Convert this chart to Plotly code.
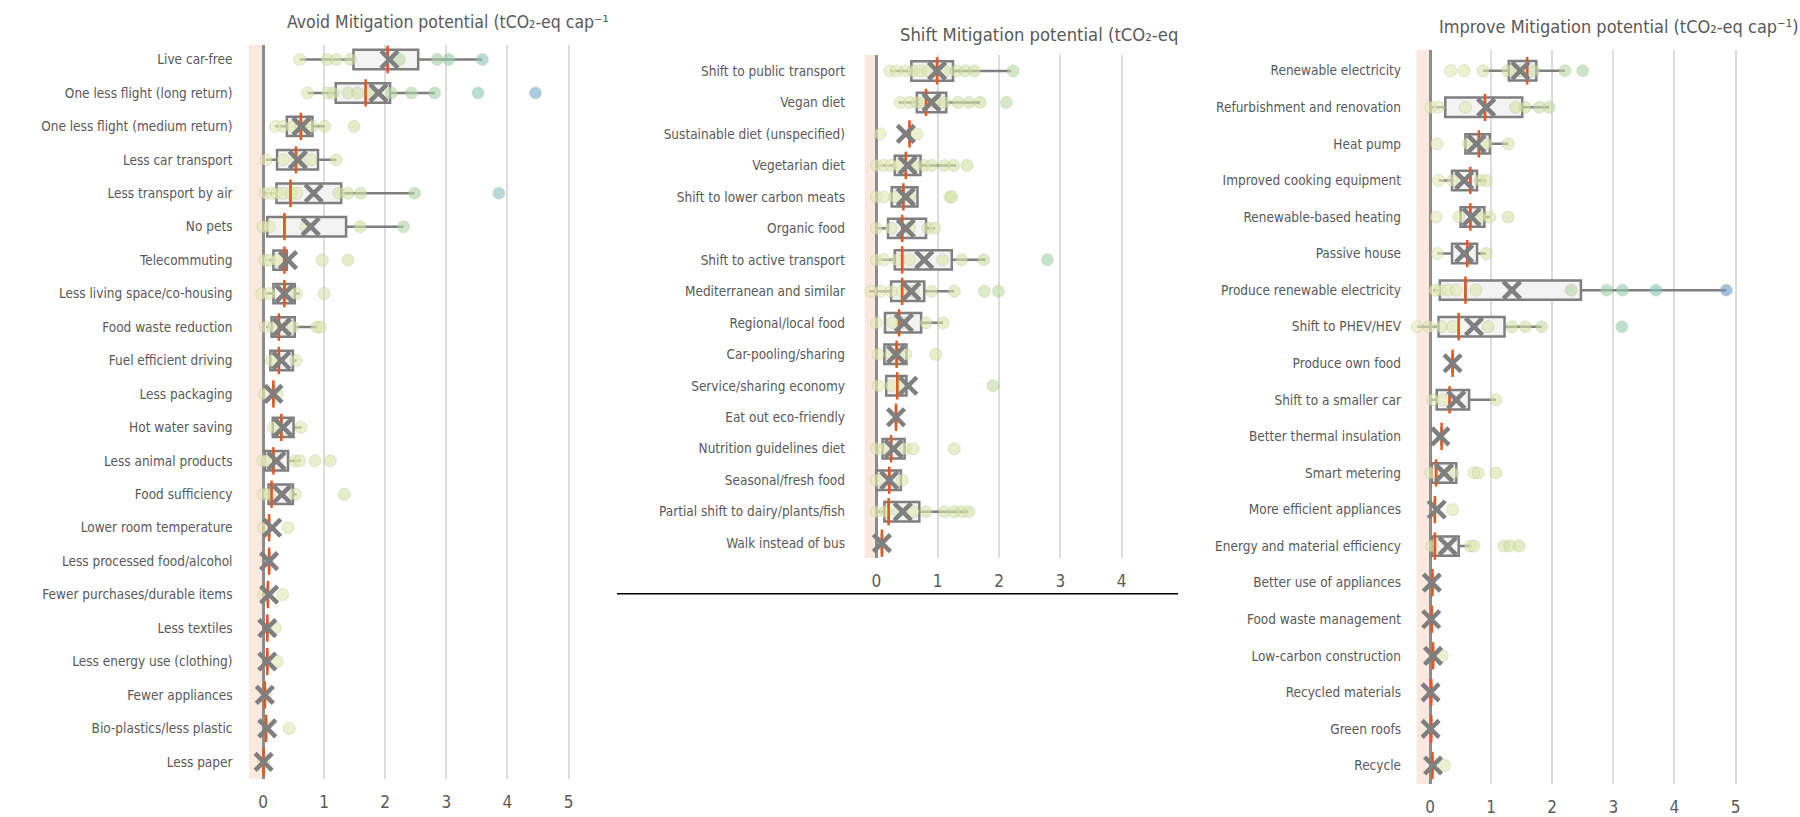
import plotly.graph_objects as go

# ---------------- Avoid ----------------
avoid_labels = ["Live car-free", "One less flight (long return)", "One less flight (medium return)",
                "Less car transport", "Less transport by air", "No pets", "Telecommuting",
                "Less living space/co-housing", "Food waste reduction", "Fuel efficient driving",
                "Less packaging", "Hot water saving", "Less animal products", "Food sufficiency",
                "Lower room temperature", "Less processed food/alcohol", "Fewer purchases/durable items",
                "Less textiles", "Less energy use (clothing)", "Fewer appliances",
                "Bio-plastics/less plastic", "Less paper"]
avoid_lo = [0.60, 0.73, 0.20, 0.05, 0.02, 0.00, 0.03, 0.02, 0.05, 0.12, 0.17, 0.16, 0.00, 0.05, 0.10, 0.10, 0.08, 0.07, 0.07, 0.03, 0.05, 0.01]
avoid_q1 = [1.48, 1.19, 0.39, 0.23, 0.22, 0.07, 0.17, 0.17, 0.14, 0.12, 0.17, 0.16, 0.03, 0.09, 0.10, 0.10, 0.08, 0.07, 0.07, 0.03, 0.05, 0.01]
avoid_med = [2.04, 1.68, 0.62, 0.54, 0.45, 0.35, 0.35, 0.35, 0.26, 0.26, 0.17, 0.30, 0.17, 0.14, 0.10, 0.10, 0.08, 0.07, 0.07, 0.03, 0.05, 0.01]
avoid_q3 = [2.54, 2.08, 0.81, 0.90, 1.28, 1.36, 0.39, 0.52, 0.52, 0.49, 0.17, 0.50, 0.41, 0.49, 0.10, 0.10, 0.08, 0.07, 0.07, 0.03, 0.05, 0.01]
avoid_hi = [3.59, 2.81, 1.01, 1.20, 2.48, 2.30, 0.39, 0.60, 0.90, 0.55, 0.17, 0.63, 0.62, 0.55, 0.10, 0.10, 0.08, 0.07, 0.07, 0.03, 0.05, 0.01]
avoid_mean = [2.07, 1.89, 0.63, 0.57, 0.83, 0.78, 0.41, 0.35, 0.31, 0.30, 0.17, 0.33, 0.22, 0.31, 0.15, 0.10, 0.10, 0.07, 0.07, 0.03, 0.07, 0.01]
avoid_points = [
    [0.60, 1.05, 1.20, 1.43, 2.23, 2.85, 3.04, 3.59],
    [0.73, 1.06, 1.15, 1.39, 1.55, 1.75, 2.10, 2.43, 2.81, 3.52, 4.46],
    [0.20, 0.33, 0.49, 0.62, 0.81, 1.01, 1.49],
    [0.05, 0.33, 0.56, 0.78, 1.20],
    [0.04, 0.14, 0.23, 0.33, 0.46, 0.55, 1.24, 1.39, 1.60, 2.48, 3.86],
    [0.00, 0.10, 0.70, 1.59, 2.30],
    [0.03, 0.10, 0.23, 0.97, 1.39],
    [-0.02, 0.10, 0.55, 1.00],
    [0.04, 0.17, 0.49, 0.88, 0.94],
    [0.14, 0.54],
    [0.03, 0.23],
    [0.17, 0.62],
    [0.00, 0.06, 0.52, 0.60, 0.85, 1.10],
    [0.01, 0.10, 0.53, 1.33],
    [0.01, 0.41],
    [],
    [0.01, 0.32],
    [0.20],
    [0.23],
    [0.05],
    [0.43],
    [0.01],
]

# ---------------- Shift ----------------
shift_labels = ["Shift to public transport", "Vegan diet", "Sustainable diet (unspecified)",
                "Vegetarian diet", "Shift to lower carbon meats", "Organic food",
                "Shift to active transport", "Mediterranean and similar", "Regional/local food",
                "Car-pooling/sharing", "Service/sharing economy", "Eat out eco-friendly",
                "Nutrition guidelines diet", "Seasonal/fresh food", "Partial shift to dairy/plants/fish",
                "Walk instead of bus"]
shift_lo = [0.22, 0.36, 0.54, 0.00, 0.25, 0.00, 0.00, -0.12, 0.14, 0.13, 0.16, 0.32, 0.10, 0.00, 0.00, 0.09]
shift_q1 = [0.57, 0.66, 0.54, 0.30, 0.25, 0.19, 0.30, 0.24, 0.14, 0.13, 0.16, 0.32, 0.10, 0.00, 0.13, 0.09]
shift_med = [0.99, 0.81, 0.54, 0.48, 0.44, 0.42, 0.42, 0.42, 0.37, 0.33, 0.34, 0.32, 0.24, 0.21, 0.20, 0.09]
shift_q3 = [1.25, 1.14, 0.54, 0.72, 0.67, 0.81, 1.23, 0.78, 0.73, 0.49, 0.49, 0.32, 0.46, 0.40, 0.70, 0.09]
shift_hi = [2.20, 1.69, 0.54, 1.30, 0.67, 0.96, 1.78, 1.27, 1.09, 0.49, 0.49, 0.32, 0.46, 0.40, 1.50, 0.09]
shift_mean = [0.99, 0.90, 0.48, 0.51, 0.48, 0.48, 0.78, 0.57, 0.45, 0.32, 0.52, 0.32, 0.28, 0.21, 0.43, 0.09]
shift_points = [
    [0.22, 0.33, 0.48, 0.60, 0.72, 0.84, 1.11, 1.30, 1.45, 1.60, 2.23],
    [0.39, 0.54, 0.66, 0.78, 0.96, 1.11, 1.33, 1.51, 1.69, 2.12],
    [0.06, 0.66],
    [0.00, 0.12, 0.24, 0.36, 0.60, 0.78, 0.90, 1.11, 1.26, 1.48],
    [0.00, 0.12, 0.30, 0.54, 1.20, 1.23],
    [0.00, 0.24, 0.54, 0.84, 0.95],
    [0.00, 0.12, 0.33, 0.54, 1.08, 1.39, 1.75, 2.79],
    [-0.09, 0.06, 0.24, 0.42, 0.60, 0.90, 1.27, 1.76, 1.99],
    [0.00, 0.27, 0.42, 0.81, 1.09],
    [0.03, 0.24, 0.48, 0.97],
    [0.03, 0.24, 0.42, 1.90],
    [],
    [0.00, 0.12, 0.48, 0.60, 1.27],
    [0.00, 0.42],
    [0.00, 0.15, 0.36, 0.60, 0.81, 1.11, 1.27, 1.39, 1.51],
    [],
]

# ---------------- Improve ----------------
improve_labels = ["Renewable electricity", "Refurbishment and renovation", "Heat pump",
                  "Improved cooking equipment", "Renewable-based heating", "Passive house",
                  "Produce renewable electricity", "Shift to PHEV/HEV", "Produce own food",
                  "Shift to a smaller car", "Better thermal insulation", "Smart metering",
                  "More efficient appliances", "Energy and material efficiency",
                  "Better use of appliances", "Food waste management", "Low-carbon construction",
                  "Recycled materials", "Green roofs", "Recycle"]
improve_lo = [0.87, 0.01, 0.58, 0.14, 0.50, 0.12, 0.05, -0.21, 0.37, 0.02, 0.19, 0.03, 0.08, 0.03, 0.04, 0.03, 0.05, 0.02, 0.02, 0.04]
improve_q1 = [1.29, 0.25, 0.58, 0.36, 0.50, 0.36, 0.16, 0.14, 0.37, 0.11, 0.19, 0.03, 0.08, 0.03, 0.04, 0.03, 0.05, 0.02, 0.02, 0.04]
improve_med = [1.59, 0.90, 0.80, 0.66, 0.66, 0.61, 0.58, 0.47, 0.37, 0.32, 0.19, 0.10, 0.08, 0.08, 0.04, 0.03, 0.05, 0.02, 0.02, 0.04]
improve_q3 = [1.74, 1.51, 0.98, 0.77, 0.89, 0.77, 2.47, 1.22, 0.37, 0.64, 0.19, 0.43, 0.08, 0.47, 0.04, 0.03, 0.05, 0.02, 0.02, 0.04]
improve_hi = [2.21, 1.95, 1.28, 0.92, 0.98, 0.92, 4.85, 1.83, 0.37, 1.08, 0.19, 0.43, 0.08, 0.69, 0.04, 0.03, 0.05, 0.02, 0.02, 0.04]
improve_mean = [1.48, 0.92, 0.76, 0.56, 0.68, 0.56, 1.34, 0.72, 0.37, 0.43, 0.17, 0.23, 0.11, 0.29, 0.03, 0.02, 0.05, 0.01, 0.01, 0.05]
improve_points = [
    [0.34, 0.56, 0.87, 1.27, 1.47, 1.70, 2.21, 2.50],
    [0.01, 0.14, 0.58, 1.40, 1.56, 1.79, 1.95],
    [0.11, 0.63, 0.92, 1.28],
    [0.14, 0.37, 0.82, 0.92],
    [0.10, 0.47, 0.82, 0.98, 1.28],
    [0.12, 0.92],
    [0.08, 0.17, 0.30, 0.43, 0.75, 2.31, 2.89, 3.15, 3.70, 4.85],
    [-0.21, -0.02, 0.18, 0.37, 0.95, 1.34, 1.56, 1.83, 3.14],
    [],
    [0.05, 0.21, 1.08],
    [],
    [0.01, 0.37, 0.72, 0.79, 1.08],
    [0.37],
    [0.03, 0.66, 0.72, 1.21, 1.31, 1.46],
    [],
    [],
    [0.20],
    [],
    [],
    [0.24],
]

tick_vals = [0, 1, 2, 3, 4, 5]

FONT = "Liberation Sans Narrow, Arial Narrow, DejaVu Sans Condensed, sans-serif"
TXT = "#595959"
GRAY = "#7f7f7f"
MED = "#e8561f"
PT_SCALE = [[0.0, "#e8ebb8"], [0.3, "#d3e2a6"], [0.5, "#aed5a6"], [0.64, "#94cbb2"],
            [0.76, "#8ac6c0"], [0.9, "#74a8d3"], [1.0, "#6a95c8"]]

W, H = 1800, 817
fig = go.Figure()

panels = [
    dict(labels=avoid_labels, lo=avoid_lo, q1=avoid_q1, med=avoid_med, q3=avoid_q3, hi=avoid_hi,
         mean=avoid_mean, pts=avoid_points, xa="x", ya="y",
         xdom=(235.5, 605), zero=263, unit=61.1, ytop=45, ybot=781.7, row0=59.7, step=33.57,
         band=-0.23, title="Avoid Mitigation potential (tCO₂-eq cap⁻¹", tx=285, ty=21.7, ts=17.5),
    dict(labels=shift_labels, lo=shift_lo, q1=shift_q1, med=shift_med, q3=shift_q3, hi=shift_hi,
         mean=shift_mean, pts=shift_points, xa="x2", ya="y2",
         xdom=(848, 1177), zero=876.4, unit=61.3, ytop=55, ybot=560, row0=71.2, step=31.6,
         band=-0.19, title="Shift Mitigation potential (tCO₂-eq", tx=898, ty=35, ts=18.3),
    dict(labels=improve_labels, lo=improve_lo, q1=improve_q1, med=improve_med, q3=improve_q3,
         hi=improve_hi, mean=improve_mean, pts=improve_points, xa="x3", ya="y3",
         xdom=(1404, 1800), zero=1430, unit=61.1, ytop=50, ybot=787, row0=71, step=36.7,
         band=-0.22, title="Improve Mitigation potential (tCO₂-eq cap⁻¹)", tx=1437, ty=26.7, ts=18),
]

layout_axes = {}
shapes = []
annotations = []
for i, p in enumerate(panels):
    n = len(p["labels"])
    idx = list(range(n))
    box_px = 19.5
    boxw = box_px / p["step"]
    fig.add_trace(go.Box(
        orientation="h", y=idx, q1=p["q1"], median=p["med"], q3=p["q3"],
        lowerfence=p["lo"], upperfence=p["hi"], width=boxw, whiskerwidth=0,
        fillcolor="#f3f3f3", line=dict(color=GRAY, width=2.5), boxpoints=False,
        xaxis=p["xa"], yaxis=p["ya"], showlegend=False, hoverinfo="skip"))
    px, py = [], []
    for r, vals in enumerate(p["pts"]):
        for v in vals:
            px.append(v)
            py.append(r)
    fig.add_trace(go.Scatter(
        x=px, y=py, mode="markers", xaxis=p["xa"], yaxis=p["ya"], showlegend=False,
        hoverinfo="skip",
        marker=dict(size=12, color=px, colorscale=PT_SCALE, cmin=0, cmax=5, opacity=0.62,
                    line=dict(color="rgba(170,185,130,0.55)", width=1))))
    fig.add_trace(go.Scatter(
        x=p["med"], y=idx, mode="markers", xaxis=p["xa"], yaxis=p["ya"], showlegend=False,
        hoverinfo="skip",
        marker=dict(symbol="line-ns", size=box_px, line=dict(color=MED, width=2.5))))
    fig.add_trace(go.Scatter(
        x=p["mean"], y=idx, mode="markers", xaxis=p["xa"], yaxis=p["ya"], showlegend=False,
        hoverinfo="skip",
        marker=dict(symbol="x-thin", size=17, line=dict(color=GRAY, width=4.5))))

    x0, x1 = p["xdom"]
    xmin = (x0 - p["zero"]) / p["unit"]
    xmax = (x1 - p["zero"]) / p["unit"]
    ymin_val = (p["ytop"] - p["row0"]) / p["step"]
    ymax_val = (p["ybot"] - p["row0"]) / p["step"]
    sfx = "" if i == 0 else str(i + 1)
    layout_axes["xaxis" + sfx] = dict(
        domain=[x0 / W, x1 / W], range=[xmin, xmax], anchor="y" + sfx,
        tickvals=tick_vals, showgrid=True, gridcolor="#dcdcdc", gridwidth=1.5,
        zeroline=True, zerolinecolor="#8c8c8c", zerolinewidth=2.5, showline=False,
        ticks="", ticklabelstandoff=11, tickfont=dict(family=FONT, size=17, color=TXT),
        fixedrange=True)
    layout_axes["yaxis" + sfx] = dict(
        domain=[1 - p["ybot"] / H, 1 - p["ytop"] / H], range=[ymax_val, ymin_val],
        anchor="x" + sfx, tickvals=idx, ticktext=p["labels"], showgrid=False,
        zeroline=False, showline=False, ticks="", ticklabelstandoff=2,
        tickfont=dict(family=FONT, size=13.5, color=TXT), fixedrange=True)
    shapes.append(dict(type="rect", xref=p["xa"], yref=p["ya"] + " domain",
                       x0=p["band"], x1=0, y0=0, y1=1, fillcolor="#fbe8df",
                       line=dict(width=0), layer="below"))
    annotations.append(dict(text=p["title"], xref="paper", yref="paper",
                            x=p["tx"] / W, y=1 - p["ty"] / H, xanchor="left", yanchor="middle",
                            showarrow=False, font=dict(family=FONT, size=p["ts"], color=TXT)))

shapes.append(dict(type="line", xref="paper", yref="paper", x0=617 / W, x1=1178 / W,
                   y0=1 - 596 / H, y1=1 - 596 / H, line=dict(color="#000000", width=1.5)))

fig.update_layout(
    width=W, height=H, margin=dict(l=0, r=0, t=0, b=0),
    paper_bgcolor="white", plot_bgcolor="white",
    shapes=shapes, annotations=annotations, showlegend=False, boxmode="overlay",
    **layout_axes)

fig.write_html("out.html", config={"displayModeBar": False},
               post_script="document.body.style.margin='0';")
